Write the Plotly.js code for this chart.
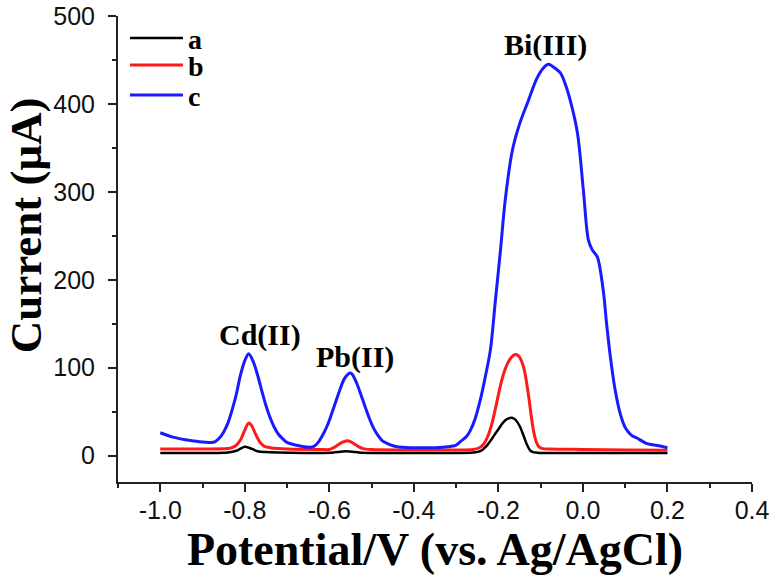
<!DOCTYPE html>
<html>
<head>
<meta charset="utf-8">
<script src="https://cdn.plot.ly/plotly-3.0.1.min.js"></script>
<style>html,body{margin:0;padding:0;background:#fff}#chart{width:774px;height:585px}</style>
</head>
<body>
<div id="chart"></div>
<script>
// ---- data ----
var seriesNames = ["a", "b", "c"];
var seriesColors = ["#000000", "#ff1a1a", "#1a1aff"];

var potentialA = [-1.0, -0.9, -0.84, -0.82, -0.81, -0.80, -0.79, -0.78, -0.77, -0.75, -0.72, -0.62, -0.59, -0.575, -0.56, -0.545, -0.53, -0.50, -0.40, -0.30, -0.26, -0.243, -0.23, -0.22, -0.21, -0.20, -0.19, -0.18, -0.168, -0.16, -0.15, -0.14, -0.132, -0.125, -0.118, -0.11, -0.10, 0.0, 0.1, 0.2];
var currentA   = [3, 3, 3.5, 5.5, 8, 10, 9, 7, 5, 4, 3.5, 3, 3.5, 4.5, 5, 4.5, 3.5, 3, 3, 3, 3.5, 5, 10, 16, 23, 30, 37, 41.5, 43, 41, 34, 22, 12, 6, 4, 3.5, 3, 3, 3, 3];

var potentialB = [-1.0, -0.9, -0.84, -0.83, -0.82, -0.81, -0.80, -0.791, -0.785, -0.775, -0.765, -0.755, -0.74, -0.72, -0.70, -0.62, -0.60, -0.59, -0.58, -0.57, -0.558, -0.55, -0.54, -0.53, -0.52, -0.50, -0.40, -0.30, -0.26, -0.245, -0.235, -0.225, -0.215, -0.205, -0.195, -0.185, -0.175, -0.165, -0.158, -0.15, -0.14, -0.135, -0.128, -0.122, -0.116, -0.11, -0.104, -0.095, -0.08, 0.0, 0.1, 0.2];
var currentB   = [7.5, 7.5, 8, 9, 12, 18, 29, 37, 35, 25, 16, 11, 9, 8, 7.5, 7, 7, 9, 12, 15, 17, 16, 13, 10, 8, 7, 6.5, 6.5, 7, 9, 13, 22, 37, 58, 80, 97, 108, 114, 115, 112, 100, 88, 66, 44, 26, 15, 10, 8, 7.5, 7, 6.5, 6];

var potentialC = [-1.0, -0.97, -0.94, -0.91, -0.88, -0.87, -0.86, -0.85, -0.84, -0.83, -0.82, -0.81, -0.80, -0.791, -0.78, -0.77, -0.76, -0.75, -0.74, -0.73, -0.72, -0.71, -0.70, -0.68, -0.66, -0.645, -0.635, -0.625, -0.615, -0.605, -0.595, -0.585, -0.575, -0.565, -0.555, -0.55, -0.545, -0.535, -0.525, -0.515, -0.505, -0.495, -0.485, -0.475, -0.46, -0.44, -0.40, -0.35, -0.32, -0.30, -0.29, -0.275, -0.266, -0.255, -0.243, -0.23, -0.219, -0.207, -0.195, -0.184, -0.167, -0.15, -0.129, -0.11, -0.095, -0.082, -0.07, -0.053, -0.04, -0.03, -0.013, 0.001, 0.013, 0.022, 0.034, 0.048, 0.056, 0.065, 0.075, 0.088, 0.1, 0.115, 0.128, 0.15, 0.183, 0.2];
var currentC   = [26, 21, 18, 16, 15, 16, 20, 27, 37, 52, 70, 92, 108, 116, 107, 92, 74, 57, 43, 32, 24, 19, 15, 12, 10, 9.5, 11, 16, 24, 34, 47, 61, 75, 87, 93, 94, 92, 82, 69, 55, 42, 31, 23, 17, 13, 10, 9, 9, 10, 12, 16, 22, 29, 42, 63, 92, 120, 177, 234, 290, 347, 377, 404, 428, 440, 445, 442, 435, 420, 404, 367, 302, 245, 234, 226, 188, 150, 112, 78, 48, 32, 23, 20, 14, 11, 9];

var xTickVals = [-1.0, -0.8, -0.6, -0.4, -0.2, 0.0, 0.2, 0.4];
var xTickText = ["-1.0", "-0.8", "-0.6", "-0.4", "-0.2", "0.0", "0.2", "0.4"];
var yTickVals = [0, 100, 200, 300, 400, 500];
var yTickText = ["0", "100", "200", "300", "400", "500"];

var peakLabels = ["Cd(II)", "Pb(II)", "Bi(III)"];
var peakX = [-0.763, -0.539, -0.088];
var peakY = [137, 112, 467];

var xTitle = "Potential/V (vs. Ag/AgCl)";
var yTitle = "Current (\u03bcA)";

// ---- figure ----
var serif = '"Times New Roman", "Liberation Serif", serif';
var sans = 'Arial, "Liberation Sans", sans-serif';
var xs = [potentialA, potentialB, potentialC];
var ys = [currentA, currentB, currentC];
var widths = [2.5, 3, 3];
var legendIds = ["legend", "legend2", "legend3"];
var legendY = [0.952, 0.894, 0.83];

var traces = [];
for (var i = 0; i < 3; i++) {
  traces.push({
    type: "scatter", mode: "lines", name: seriesNames[i],
    x: xs[i], y: ys[i],
    line: {color: seriesColors[i], width: widths[i], shape: "spline", smoothing: 0.9},
    legend: legendIds[i], showlegend: true
  });
}

var layout = {
  width: 774, height: 585,
  margin: {l: 118, r: 22, t: 16, b: 103},
  paper_bgcolor: "#fff", plot_bgcolor: "#fff",
  font: {family: sans, color: "#111"},
  xaxis: {
    range: [-1.1, 0.4], showgrid: false, zeroline: false,
    showline: true, linecolor: "#222", linewidth: 2, mirror: false,
    ticks: "outside", ticklen: 8, tickwidth: 2, tickcolor: "#222",
    tickmode: "array", tickvals: xTickVals, ticktext: xTickText,
    tickfont: {family: sans, size: 25, color: "#111"},
    ticklabelstandoff: -3,
    minor: {dtick: 0.1, tick0: -1.0, ticks: "outside", ticklen: 4, tickwidth: 2, tickcolor: "#222", showgrid: false},
    title: {text: xTitle, font: {family: serif, size: 46, color: "#000", weight: "bold"}, standoff: 10},
    automargin: false
  },
  yaxis: {
    range: [-30, 500], showgrid: false, zeroline: false,
    showline: true, linecolor: "#222", linewidth: 2, mirror: false,
    ticks: "outside", ticklen: 8, tickwidth: 2, tickcolor: "#222",
    tickmode: "array", tickvals: yTickVals, ticktext: yTickText,
    tickfont: {family: sans, size: 25, color: "#111"},
    ticklabelstandoff: 8,
    minor: {dtick: 50, tick0: 0, ticks: "outside", ticklen: 4, tickwidth: 2, tickcolor: "#222", showgrid: false},
    automargin: false
  },
  annotations: [],
  showlegend: true
};

for (var k = 0; k < 3; k++) {
  layout[legendIds[k]] = {
    x: 0.011, xanchor: "left", y: legendY[k], yanchor: "middle",
    bgcolor: "rgba(0,0,0,0)", borderwidth: 0, itemwidth: 53,
    font: {family: serif, size: 28, color: "#000", weight: "bold"},
    itemclick: false, itemdoubleclick: false
  };
}

for (var j = 0; j < peakLabels.length; j++) {
  layout.annotations.push({
    x: peakX[j], y: peakY[j], xref: "x", yref: "y",
    text: peakLabels[j], showarrow: false,
    xanchor: "center", yanchor: "middle",
    font: {family: serif, size: 30, color: "#000", weight: "bold"}
  });
}
layout.annotations.push({
  x: -0.145, y: 0.551, xref: "paper", yref: "paper",
  text: yTitle, textangle: -90, showarrow: false,
  xanchor: "center", yanchor: "middle",
  font: {family: serif, size: 45, color: "#000", weight: "bold"}
});

Plotly.newPlot("chart", traces, layout, {displayModeBar: false, staticPlot: true});
</script>
</body>
</html>
